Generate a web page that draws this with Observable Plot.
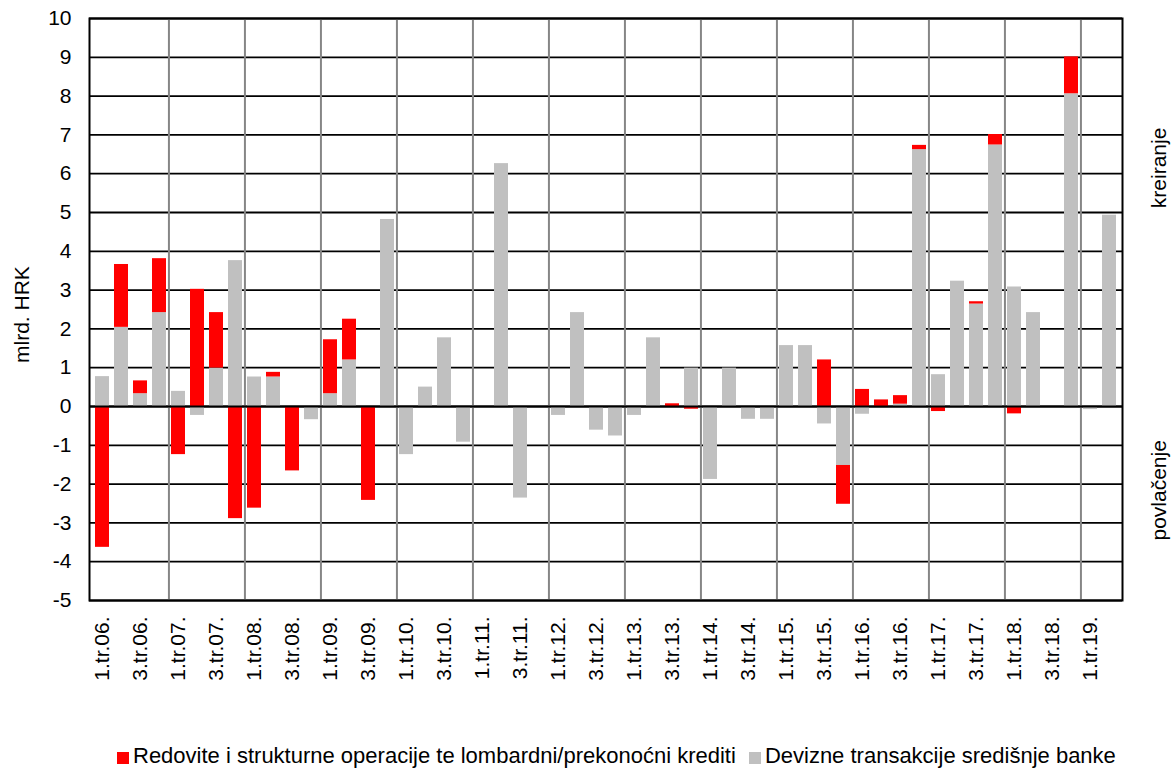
<!DOCTYPE html>
<html>
<head>
<meta charset="utf-8">
<script src="https://cdn.jsdelivr.net/npm/d3@7"></script>
<script src="https://cdn.jsdelivr.net/npm/@observablehq/plot@0.6"></script>
<style>
  body { margin: 0; background: #fff; font-family: "Liberation Sans", Arial, sans-serif; }
  #wrap { position: relative; width: 1176px; height: 772px; }
  #legend { position: absolute; left: 117px; top: 743px; display: flex; align-items: center; font-size: 22px; color: #000; white-space: nowrap; }
  .sw { width: 12px; height: 12px; display: inline-block; margin-right: 4px; margin-top: 4px; }
</style>
</head>
<body>
<div id="wrap"><div id="chart"></div><div id="legend"></div></div>
<script>
const quarters = [
  "1.tr.06.","2.tr.06.","3.tr.06.","4.tr.06.",
  "1.tr.07.","2.tr.07.","3.tr.07.","4.tr.07.",
  "1.tr.08.","2.tr.08.","3.tr.08.","4.tr.08.",
  "1.tr.09.","2.tr.09.","3.tr.09.","4.tr.09.",
  "1.tr.10.","2.tr.10.","3.tr.10.","4.tr.10.",
  "1.tr.11.","2.tr.11.","3.tr.11.","4.tr.11.",
  "1.tr.12.","2.tr.12.","3.tr.12.","4.tr.12.",
  "1.tr.13.","2.tr.13.","3.tr.13.","4.tr.13.",
  "1.tr.14.","2.tr.14.","3.tr.14.","4.tr.14.",
  "1.tr.15.","2.tr.15.","3.tr.15.","4.tr.15.",
  "1.tr.16.","2.tr.16.","3.tr.16.","4.tr.16.",
  "1.tr.17.","2.tr.17.","3.tr.17.","4.tr.17.",
  "1.tr.18.","2.tr.18.","3.tr.18.","4.tr.18.",
  "1.tr.19.","2.tr.19."
];
const xTickLabels = [
  "1.tr.06.","3.tr.06.","1.tr.07.","3.tr.07.","1.tr.08.","3.tr.08.","1.tr.09.","3.tr.09.",
  "1.tr.10.","3.tr.10.","1.tr.11.","3.tr.11.","1.tr.12.","3.tr.12.","1.tr.13.","3.tr.13.",
  "1.tr.14.","3.tr.14.","1.tr.15.","3.tr.15.","1.tr.16.","3.tr.16.","1.tr.17.","3.tr.17.",
  "1.tr.18.","3.tr.18.","1.tr.19."
];
const yearStarts = [
  "1.tr.07.","1.tr.08.","1.tr.09.","1.tr.10.","1.tr.11.","1.tr.12.","1.tr.13.",
  "1.tr.14.","1.tr.15.","1.tr.16.","1.tr.17.","1.tr.18.","1.tr.19."
];
const yTicks = [-5,-4,-3,-2,-1,0,1,2,3,4,5,6,7,8,9,10];

const seriesNames = [
  "Redovite i strukturne operacije te lombardni/prekonoćni krediti",
  "Devizne transakcije središnje banke"
];
const seriesColors = ["#ff0000", "#c0c0c0"];

// Devizne transakcije središnje banke (grey)
const devizne = [
  0.77, 2.04, 0.33, 2.42,
  0.39, -0.23, 0.99, 3.76,
  0.76, 0.76, 0, -0.34,
  0.33, 1.20, 0, 4.82,
  -1.24, 0.50, 1.77, -0.92,
  0, 6.26, -2.36, 0,
  -0.23, 2.42, -0.61, -0.76,
  -0.23, 1.77, 0, 0.99,
  -1.88, 0.99, -0.33, -0.33,
  1.57, 1.57, -0.45, -1.52,
  -0.20, 0, 0.06, 6.62,
  0.82, 3.23, 2.64, 6.74,
  3.08, 2.42, 0, 8.06,
  -0.08, 4.93
];
// Redovite i strukturne operacije te lombardni/prekonoćni krediti (red)
const redovite = [
  -3.63, 1.62, 0.33, 1.39,
  -1.24, 3.02, 1.43, -2.89,
  -2.62, 0.12, -1.66, 0,
  1.39, 1.05, -2.42, 0,
  0, 0, 0, 0,
  0, 0, 0, 0,
  0, 0, 0, 0,
  0, 0, 0.07, -0.07,
  0, 0, 0, 0,
  0, 0, 1.20, -1.00,
  0.44, 0.17, 0.22, 0.11,
  -0.13, 0, 0.06, 0.27,
  -0.19, 0, 0, 0.95,
  0, 0
];

const rows = [];
quarters.forEach((q, i) => rows.push({q, series: seriesNames[1], value: devizne[i]}));
quarters.forEach((q, i) => rows.push({q, series: seriesNames[0], value: redovite[i]}));

const W = 1176, H = 730;
const mL = 89, mR = 54, mT = 18, mB = 130;
const step = (W - mL - mR) / quarters.length;

const chart = Plot.plot({
  width: W,
  height: H,
  marginLeft: mL,
  marginRight: mR,
  marginTop: mT,
  marginBottom: mB,
  style: {fontFamily: "Liberation Sans, Arial, sans-serif", color: "#000", background: "#fff", overflow: "visible"},
  x: {type: "band", domain: quarters, paddingInner: 0.27, paddingOuter: 0.135, axis: null},
  y: {domain: [-5, 10], axis: null},
  color: {domain: seriesNames, range: seriesColors},
  marks: [
    Plot.ruleY(yTicks, {stroke: "#000", strokeWidth: 1.8}),
    Plot.ruleX(yearStarts, {x: d => d, dx: -step / 2, stroke: "#868686", strokeWidth: 2}),
    Plot.barY(rows.filter(d => d.value !== 0), {x: "q", y: "value", fill: "series", z: "series"}),
    Plot.ruleY([0], {stroke: "#000", strokeWidth: 2}),
    Plot.frame({stroke: "#000", strokeWidth: 2}),
    Plot.axisY({ticks: yTicks, tickSize: 0, tickPadding: 18, fontSize: 21, label: null, tickFormat: d => String(d)}),
    Plot.axisX({ticks: xTickLabels, tickRotate: -90, tickSize: 0, tickPadding: 16, fontSize: 21, label: null}),
    Plot.text(["mlrd. HRK"], {text: d => d, y: () => 2.37, frameAnchor: "left", textAnchor: "middle", dx: -67, rotate: -90, fontSize: 21, fill: "#000"}),
    Plot.text(["kreiranje"], {text: d => d, y: () => 6.15, frameAnchor: "right", textAnchor: "middle", dx: 37, rotate: -90, fontSize: 21, fill: "#000"}),
    Plot.text(["povlačenje"], {text: d => d, y: () => -2.16, frameAnchor: "right", textAnchor: "middle", dx: 37, rotate: -90, fontSize: 21, fill: "#000"})
  ]
});
document.getElementById("chart").appendChild(chart);

const legend = document.getElementById("legend");
seriesNames.forEach((name, i) => {
  const item = document.createElement("span");
  item.style.display = "inline-flex";
  item.style.alignItems = "center";
  item.style.marginRight = i === 0 ? "13px" : "0";
  const sw = document.createElement("span");
  sw.className = "sw";
  sw.style.background = seriesColors[i];
  const t = document.createElement("span");
  t.textContent = name;
  item.appendChild(sw);
  item.appendChild(t);
  legend.appendChild(item);
});
</script>
</body>
</html>
